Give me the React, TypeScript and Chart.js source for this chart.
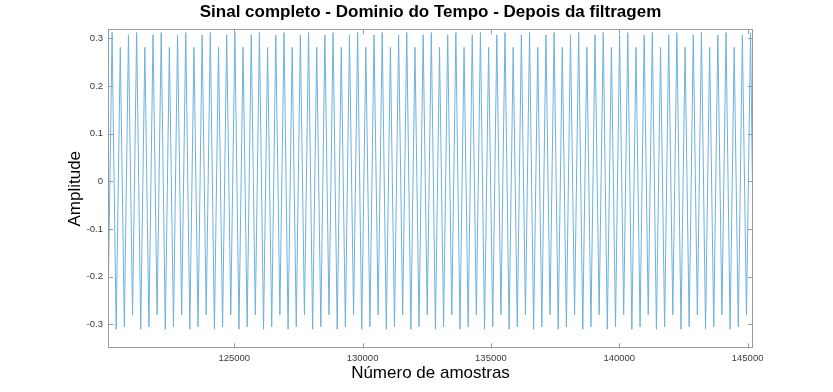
import React, { useEffect, useRef } from "react";
import { Chart, registerables } from "chart.js";

Chart.register(...registerables);

const titleText = "Sinal completo - Dominio do Tempo - Depois da filtragem";
const xAxisLabel = "Número de amostras";
const yAxisLabel = "Amplitude";

const xTicks = [125000, 130000, 135000, 140000, 145000];
const yTicks = [-0.3, -0.2, -0.1, 0, 0.1, 0.2, 0.3];
const xRange = [120082, 145210];
const yRange = [-0.35, 0.319];

// first and last samples of the visible signal
const startPoint = [120082, -0.273];
const endPoint = [145210, -0.1];

// sample index and amplitude of every positive peak
const peakSamples = [
  120241, 120560, 120879, 121198, 121517, 121836, 122155, 122473, 122792, 123111,
  123430, 123749, 124068, 124387, 124706, 125025, 125344, 125662, 125981, 126300,
  126619, 126938, 127257, 127576, 127895, 128214, 128532, 128851, 129170, 129489,
  129808, 130127, 130446, 130765, 131084, 131403, 131721, 132040, 132359, 132678,
  132997, 133316, 133635, 133954, 134273, 134592, 134910, 135229, 135548, 135867,
  136186, 136505, 136824, 137143, 137462, 137781, 138099, 138418, 138737, 139056,
  139375, 139694, 140013, 140332, 140651, 140970, 141288, 141607, 141926, 142245,
  142564, 142883, 143202, 143521, 143840, 144159, 144477, 144796, 145115,
];
const peakValues = [
  0.312, 0.281, 0.307, 0.312, 0.281, 0.307, 0.312, 0.281, 0.307, 0.312,
  0.281, 0.307, 0.312, 0.281, 0.307, 0.312, 0.281, 0.307, 0.312, 0.281,
  0.307, 0.312, 0.281, 0.307, 0.312, 0.281, 0.307, 0.312, 0.281, 0.307,
  0.312, 0.281, 0.307, 0.312, 0.281, 0.307, 0.312, 0.281, 0.307, 0.312,
  0.281, 0.307, 0.312, 0.281, 0.307, 0.312, 0.281, 0.307, 0.312, 0.281,
  0.307, 0.312, 0.281, 0.307, 0.312, 0.281, 0.307, 0.312, 0.281, 0.307,
  0.312, 0.281, 0.307, 0.312, 0.281, 0.307, 0.312, 0.281, 0.307, 0.312,
  0.281, 0.307, 0.312, 0.281, 0.307, 0.312, 0.281, 0.307, 0.312,
];

// sample index and amplitude of every negative trough
const troughSamples = [
  120400, 120719, 121038, 121357, 121676, 121995, 122314, 122633, 122952, 123271,
  123589, 123908, 124227, 124546, 124865, 125184, 125503, 125822, 126141, 126460,
  126778, 127097, 127416, 127735, 128054, 128373, 128692, 129011, 129330, 129649,
  129967, 130286, 130605, 130924, 131243, 131562, 131881, 132200, 132519, 132838,
  133156, 133475, 133794, 134113, 134432, 134751, 135070, 135389, 135708, 136027,
  136345, 136664, 136983, 137302, 137621, 137940, 138259, 138578, 138897, 139216,
  139534, 139853, 140172, 140491, 140810, 141129, 141448, 141767, 142086, 142405,
  142723, 143042, 143361, 143680, 143999, 144318, 144637, 144956,
];
const troughValues = [
  -0.31, -0.305, -0.28, -0.31, -0.305, -0.28, -0.31, -0.305, -0.28, -0.31,
  -0.305, -0.28, -0.31, -0.305, -0.28, -0.31, -0.305, -0.28, -0.31, -0.305,
  -0.28, -0.31, -0.305, -0.28, -0.31, -0.305, -0.28, -0.31, -0.305, -0.28,
  -0.31, -0.305, -0.28, -0.31, -0.305, -0.28, -0.31, -0.305, -0.28, -0.31,
  -0.305, -0.28, -0.31, -0.305, -0.28, -0.31, -0.305, -0.28, -0.31, -0.305,
  -0.28, -0.31, -0.305, -0.28, -0.31, -0.305, -0.28, -0.31, -0.305, -0.28,
  -0.31, -0.305, -0.28, -0.31, -0.305, -0.28, -0.31, -0.305, -0.28, -0.31,
  -0.305, -0.28, -0.31, -0.305, -0.28, -0.31, -0.305, -0.28,
];

const FONT = "'Liberation Sans', Arial, Helvetica, sans-serif";
const LINE_COLOR = "#6fb1de";
const AXIS_COLOR = "#9a9a9a";
const TEXT_COLOR = "#3a3a3a";
const TICK_LEN = 5;

function buildPoints() {
  const pts: { x: number; y: number }[] = [{ x: startPoint[0], y: startPoint[1] }];
  peakSamples.forEach((s, i) => {
    pts.push({ x: s, y: peakValues[i] });
    if (i < troughSamples.length) pts.push({ x: troughSamples[i], y: troughValues[i] });
  });
  pts.push({ x: endPoint[0], y: endPoint[1] });
  return pts;
}

const boxPlugin = {
  id: "matlabBox",
  afterDatasetsDraw(chart: any) {
    const { ctx, chartArea } = chart;
    const { left, right, top, bottom } = chartArea;
    const xs = chart.scales.x;
    const ys = chart.scales.y;
    ctx.save();
    ctx.strokeStyle = AXIS_COLOR;
    ctx.lineWidth = 1;
    ctx.beginPath();
    xs.ticks.forEach((t: any) => {
      const px = Math.round(xs.getPixelForValue(t.value)) + 0.5;
      ctx.moveTo(px, bottom);
      ctx.lineTo(px, bottom - TICK_LEN);
      ctx.moveTo(px, top);
      ctx.lineTo(px, top + TICK_LEN);
    });
    ys.ticks.forEach((t: any) => {
      const py = Math.round(ys.getPixelForValue(t.value)) + 0.5;
      ctx.moveTo(left, py);
      ctx.lineTo(left + TICK_LEN, py);
      ctx.moveTo(right, py);
      ctx.lineTo(right - TICK_LEN, py);
    });
    ctx.stroke();
    ctx.strokeRect(Math.round(left) + 0.5, Math.round(top) + 0.5, Math.round(right - left) - 1, Math.round(bottom - top) - 1);
    ctx.restore();
  },
};

export default function App() {
  const canvasRef = useRef<HTMLCanvasElement | null>(null);

  useEffect(() => {
    if (!canvasRef.current) return;
    const chart = new Chart(canvasRef.current, {
      type: "line",
      data: {
        datasets: [
          {
            data: buildPoints(),
            borderColor: LINE_COLOR,
            borderWidth: 1,
            pointRadius: 0,
            tension: 0,
            fill: false,
          },
        ],
      },
      options: {
        responsive: false,
        animation: false,
        devicePixelRatio: 1,
        parsing: false,
        layout: { padding: { left: 0, right: 80, top: 0, bottom: 0 } },
        plugins: {
          legend: { display: false },
          tooltip: { enabled: false },
          title: {
            display: true,
            text: titleText,
            fullSize: false,
            color: "#000",
            font: { family: FONT, size: 17, weight: "bold", lineHeight: 1.2 },
            padding: { top: 1.8, bottom: 7 },
          },
        },
        scales: {
          x: {
            type: "linear",
            min: xRange[0],
            max: xRange[1],
            grid: { display: false, drawTicks: false },
            border: { display: false },
            ticks: {
              color: TEXT_COLOR,
              font: { family: FONT, size: 9.5 },
              padding: 4,
              autoSkip: false,
              maxRotation: 0,
              callback: (v: any) => String(v),
            },
            title: {
              display: true,
              text: xAxisLabel,
              color: "#000",
              font: { family: FONT, size: 17, lineHeight: 1.2 },
              padding: { top: 0, bottom: 8.8 },
            },
            afterBuildTicks: (s: any) => {
              s.ticks = xTicks.map((v) => ({ value: v }));
            },
            afterFit: (s: any) => {
              s.height = 43.7;
            },
          },
          y: {
            type: "linear",
            min: yRange[0],
            max: yRange[1],
            grid: { display: false, drawTicks: false },
            border: { display: false },
            ticks: {
              color: TEXT_COLOR,
              font: { family: FONT, size: 9.5 },
              padding: 5,
              autoSkip: false,
              callback: (v: any) => String(v),
            },
            title: {
              display: true,
              text: yAxisLabel,
              color: "#000",
              font: { family: FONT, size: 17, lineHeight: 1.2 },
              padding: { top: 64.8, bottom: 0 },
            },
            afterBuildTicks: (s: any) => {
              s.ticks = yTicks.map((v) => ({ value: v }));
            },
            afterFit: (s: any) => {
              s.width = 108;
            },
          },
        },
      },
      plugins: [boxPlugin],
    });
    return () => chart.destroy();
  }, []);

  return (
    <div style={{ position: "fixed", left: 0, top: 0, width: 833, height: 392, background: "#fff" }}>
      <canvas ref={canvasRef} width={833} height={392} style={{ width: 833, height: 392, display: "block" }} />
    </div>
  );
}
